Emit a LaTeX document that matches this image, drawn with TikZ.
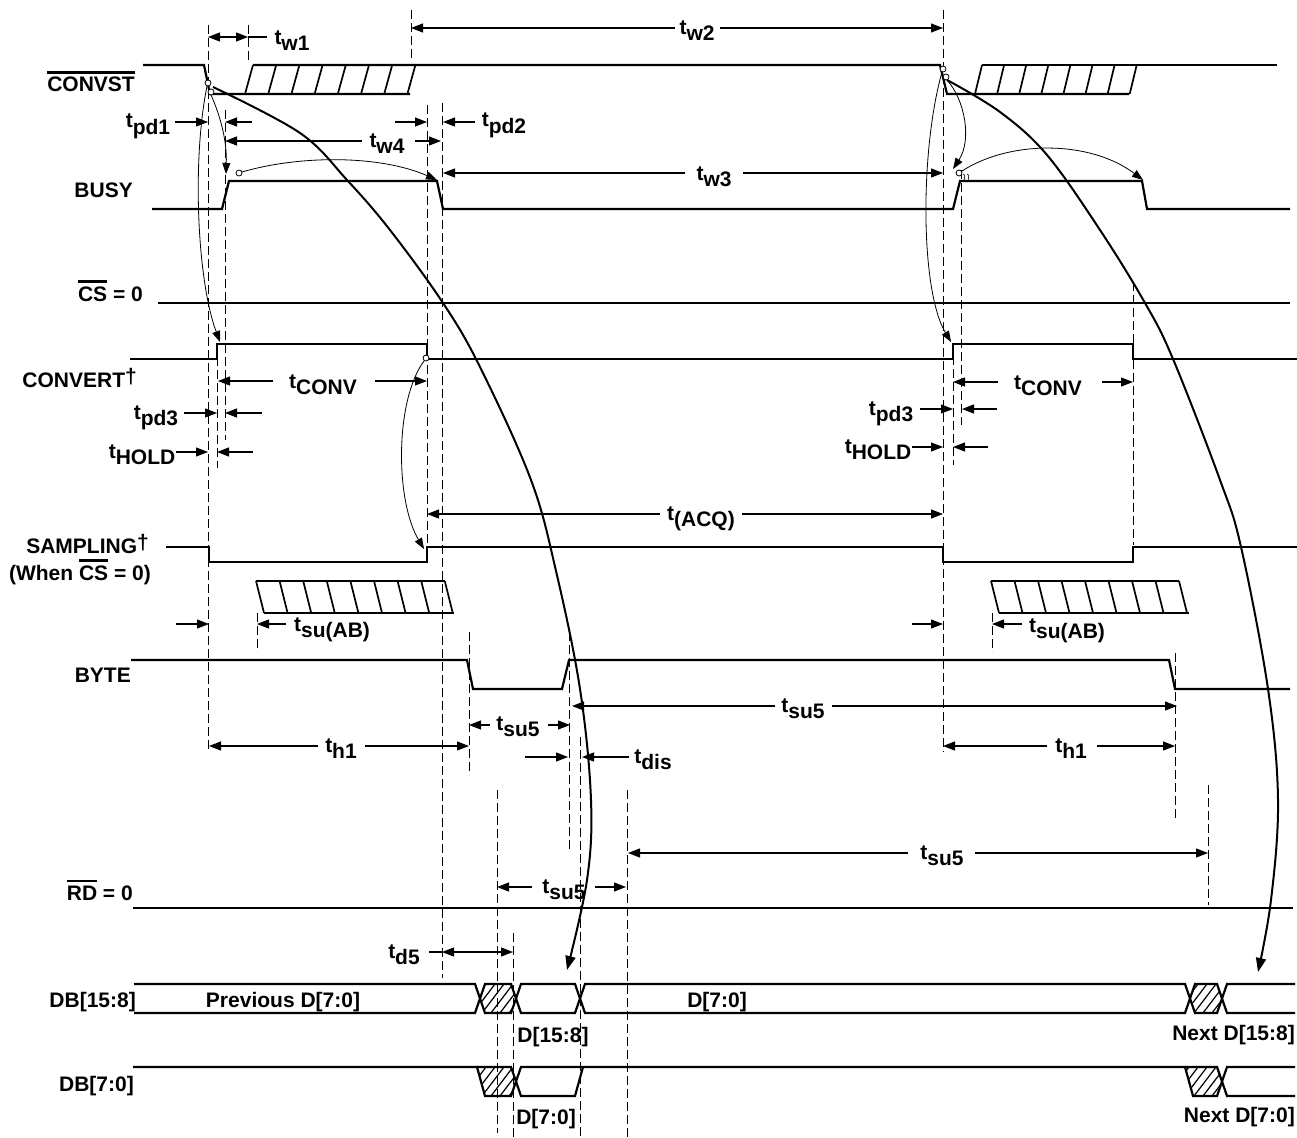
\documentclass[tikz,border=0pt]{standalone}
\usepackage{fontspec}
\setmainfont{Liberation Sans}
\usetikzlibrary{arrows.meta}
\newcommand\tm[1]{t\raisebox{-6pt}{#1}}
\newcommand\ovl[1]{\vbox{\hrule height 2.4pt\kern 3.5pt\hbox{#1}}}
\tikzset{
  sig/.style={line width=2.2pt},
  hat/.style={line width=1.7pt},
  hatl/.style={line width=1.2pt},
  dim/.style={line width=1.1pt},
  tip/.style={-{Triangle[length=12pt,width=9pt]}},
  dtip/.style={{Triangle[length=12pt,width=9pt]}-{Triangle[length=12pt,width=9pt]}},
  ctip/.style={-{Triangle[length=11pt,width=8pt]}},
  btip/.style={-{Triangle[length=14pt,width=10pt]}},
  guide/.style={line width=0.9pt, dash pattern=on 9pt off 4pt},
  conn/.style={line width=0.8pt},
  bigc/.style={line width=2pt},
  lbl/.style={anchor=base, inner sep=0pt, font=\fontsize{21}{24}\selectfont\bfseries},
  sname/.style={anchor=base east, inner sep=0pt, font=\fontsize{21}{24}\selectfont\bfseries},
  dot/.style={circle, draw, fill=white, line width=0.8pt, inner sep=0pt, minimum size=6pt},
}
\begin{document}
\begin{tikzpicture}[x=1pt,y=-1pt]
\useasboundingbox (0,0) rectangle (1297,1137);

% ---------- signal names
\node[sname] (nconvst) at (135,92) {\ovl{CONVST}};
\node[sname] (nbusy) at (133,197) {BUSY};
\node[sname] (ncs) at (143,301) {\ovl{CS} = 0};
\node[sname] (nconvert) at (137,387) {CONVERT\raisebox{4pt}{†}};
\node[sname] (nsamp) at (149,553) {SAMPLING\raisebox{4pt}{†}};
\node[sname] (nwhen) at (151,580) {(When \ovl{CS} = 0)};
\node[sname] (nbyte) at (131,682) {BYTE};
\node[sname] (nrd) at (133,900) {\ovl{RD} = 0};
\node[sname] (ndbh) at (136,1007) {DB[15:8]};
\node[sname] (ndbl) at (134,1091) {DB[7:0]};

% ---------- guide (dashed) lines
\draw[guide] (208,25) -- (208,752);
\draw[guide] (248,25) -- (248,62);
\draw[guide] (411,10) -- (411,62);
\draw[guide] (943,10) -- (943,752);
\draw[guide] (217,344) -- (217,468);
\draw[guide] (225,110) -- (225,440);
\draw[guide] (427,105) -- (427,545);
\draw[guide] (442,103) -- (442,978);
\draw[guide] (257,613) -- (257,652);
\draw[guide] (992,613) -- (992,652);
\draw[guide] (469,632) -- (469,775);
\draw[guide] (569,632) -- (569,850);
\draw[guide] (580,737) -- (580,1137);
\draw[guide] (497,790) -- (497,1133);
\draw[guide] (513,933) -- (513,1137);
\draw[guide] (627,790) -- (627,1137);
\draw[guide] (953,343) -- (953,465);
\draw[guide] (961,170) -- (961,425);
\draw[guide] (1133,282) -- (1133,545);
\draw[guide] (1175,653) -- (1175,818);
\draw[guide] (1208,785) -- (1208,905);

% ---------- CONVST
\draw[sig] (143,65) -- (204,65) -- (210,94) -- (410,94);
\draw[sig] (253,65) -- (940,65) -- (947,94) -- (1129,94);
\draw[sig] (982,65) -- (1277,65);
\foreach \i in {0,...,7} \draw[hat] ({245+23.2*\i},94) -- ({253+23.2*\i},65);
\foreach \i in {0,...,7} \draw[hat] ({975+22.1*\i},94) -- ({982+22.1*\i},65);

% ---------- BUSY
\draw[sig] (152,209) -- (222,209) -- (229,181) -- (437,181) -- (443,209) -- (953,209) -- (960,181) -- (1142,181) -- (1147,209) -- (1290,209);

% ---------- CS
\draw[sig] (158,303) -- (1290,303);

% ---------- CONVERT
\draw[sig] (130,359) -- (217,359) -- (217,344) -- (427,344) -- (427,359) -- (953,359) -- (953,344) -- (1133,344) -- (1133,359) -- (1297,359);

% ---------- SAMPLING
\draw[sig] (166,547) -- (209,547) -- (209,562) -- (427,562) -- (427,547) -- (943,547) -- (943,562) -- (1133,562) -- (1133,547) -- (1297,547);

% ---------- tsu(AB) hatches
\draw[sig] (256,581) -- (445,581);
\draw[sig] (264,613) -- (454,613);
\foreach \i in {0,...,8} \draw[hat] ({256+23.6*\i},581) -- ({264+23.6*\i},613);
\draw[sig] (991,581) -- (1179,581);
\draw[sig] (999,613) -- (1189,613);
\foreach \i in {0,...,8} \draw[hat] ({991+23.5*\i},581) -- ({999+23.5*\i},613);

% ---------- BYTE
\draw[sig] (131,660) -- (467,660) -- (473,689) -- (562,689) -- (569,660) -- (1169,660) -- (1175,689) -- (1290,689);

% ---------- RD
\draw[sig] (133,908) -- (1293,908);

% ---------- DB[15:8]
\draw[sig] (134,984) -- (475,984) -- (485,1013) -- (511,1013) -- (521,984) -- (575,984) -- (585,1013) -- (1185,1013) -- (1195,984) -- (1217,984) -- (1227,1013) -- (1295,1013);
\draw[sig] (134,1013) -- (475,1013) -- (485,984) -- (511,984) -- (521,1013) -- (575,1013) -- (585,984) -- (1185,984) -- (1195,1013) -- (1217,1013) -- (1227,984) -- (1295,984);
\begin{scope}
\clip (480,998.5) -- (485,984) -- (511,984) -- (516,998.5) -- (511,1013) -- (485,1013) -- cycle;
\foreach \x in {446,455,...,530} \draw[hatl] (\x,1013) -- ({\x+22},984);
\end{scope}
\begin{scope}
\clip (1190,998.5) -- (1195,984) -- (1217,984) -- (1222,998.5) -- (1217,1013) -- (1195,1013) -- cycle;
\foreach \x in {1158,1167,...,1230} \draw[hatl] (\x,1013) -- ({\x+22},984);
\end{scope}

% ---------- DB[7:0]
\draw[sig] (133,1067) -- (477,1067) -- (485,1096) -- (511,1096) -- (521,1067) -- (1185,1067) -- (1193,1096) -- (1217,1096) -- (1227,1067) -- (1295,1067);
\draw[sig] (477,1067) -- (511,1067) -- (521,1096) -- (575,1096) -- (583,1067);
\draw[sig] (1185,1067) -- (1217,1067) -- (1227,1096) -- (1295,1096);
\begin{scope}
\clip (477,1067) -- (511,1067) -- (516,1081.5) -- (511,1096) -- (485,1096) -- cycle;
\foreach \x in {446,455,...,530} \draw[hatl] (\x,1096) -- ({\x+22},1067);
\end{scope}
\begin{scope}
\clip (1185,1067) -- (1217,1067) -- (1222,1081.5) -- (1217,1096) -- (1193,1096) -- cycle;
\foreach \x in {1158,1167,...,1230} \draw[hatl] (\x,1096) -- ({\x+22},1067);
\end{scope}

% ---------- data labels
\node[lbl] (lprev) at (283,1007) {Previous D[7:0]};
\node[lbl] (ld70a) at (717,1007) {D[7:0]};
\node[lbl] (ld158) at (553,1042) {D[15:8]};
\node[lbl] (ld70b) at (546,1124) {D[7:0]};
\node[sname] (lnexth) at (1295,1040) {Next D[15:8]};
\node[sname] (lnextl) at (1295,1122) {Next D[7:0]};

% ---------- dimension arrows
% tw1
\draw[dim,dtip] (208,37) -- (248,37);
\draw[dim] (248,37) -- (267,37);
\node[lbl] (ltw1) at (292,45) {\tm{w1}};
% tw2
\draw[dim,tip] (675,28) -- (411,28);
\draw[dim,tip] (720,28) -- (943,28);
\node[lbl] (ltw2) at (697,35) {\tm{w2}};
% tpd1
\draw[dim,tip] (175,122) -- (208,122);
\draw[dim,tip] (252,122) -- (225,122);
\node[lbl] (ltpd1) at (148,128) {\tm{pd1}};
% tw4
\draw[dim,tip] (362,141) -- (225,141);
\draw[dim,tip] (415,141) -- (441,141);
\node[lbl] (ltw4) at (387,147) {\tm{w4}};
% tpd2
\draw[dim,tip] (395,122) -- (427,122);
\draw[dim,tip] (475,122) -- (443,122);
\node[lbl] (ltpd2) at (504,127) {\tm{pd2}};
% tw3
\draw[dim,tip] (685,173) -- (443,173);
\draw[dim,tip] (743,173) -- (943,173);
\node[lbl] (ltw3) at (714,180) {\tm{w3}};
% tCONV left
\draw[dim,tip] (273,381) -- (218,381);
\draw[dim,tip] (375,381) -- (427,381);
\node[lbl] (ltconv) at (323,388) {\tm{CONV}};
% tpd3 left
\draw[dim,tip] (184,413) -- (217,413);
\draw[dim,tip] (262,413) -- (225,413);
\node[lbl] (ltpd3) at (156,419) {\tm{pd3}};
% tHOLD left
\draw[dim,tip] (176,452) -- (208,452);
\draw[dim,tip] (253,452) -- (217,452);
\node[lbl] (lthold) at (142,458) {\tm{HOLD}};
% tCONV right
\draw[dim,tip] (998,382) -- (953,382);
\draw[dim,tip] (1102,382) -- (1133,382);
\node[lbl] (ltconvr) at (1048,389) {\tm{CONV}};
% tpd3 right
\draw[dim,tip] (920,409) -- (953,409);
\draw[dim,tip] (997,409) -- (962,409);
\node[lbl] (ltpd3r) at (891,415) {\tm{pd3}};
% tHOLD right
\draw[dim,tip] (912,447) -- (943,447);
\draw[dim,tip] (988,447) -- (953,447);
\node[lbl] (ltholdr) at (878,453) {\tm{HOLD}};
% t(ACQ)
\draw[dim,tip] (660,514) -- (427,514);
\draw[dim,tip] (742,514) -- (943,514);
\node[lbl] (ltacq) at (701,520) {\tm{(ACQ)}};
% tsu(AB) left
\draw[dim,tip] (176,624) -- (209,624);
\draw[dim,tip] (286,624) -- (257,624);
\node[lbl] (ltsuab) at (332,631) {\tm{su(AB)}};
% tsu(AB) right
\draw[dim,tip] (912,624) -- (943,624);
\draw[dim,tip] (1022,624) -- (992,624);
\node[lbl] (ltsuabr) at (1067,632) {\tm{su(AB)}};
% tsu5 small
\draw[dim,tip] (490,725) -- (469,725);
\draw[dim,tip] (548,725) -- (570,725);
\node[lbl] (ltsu5a) at (518,730) {\tm{su5}};
% tsu5 big
\draw[dim,tip] (775,706) -- (572,706);
\draw[dim,tip] (832,706) -- (1177,706);
\node[lbl] (ltsu5b) at (803,712) {\tm{su5}};
% th1 left
\draw[dim,tip] (318,746) -- (209,746);
\draw[dim,tip] (365,746) -- (469,746);
\node[lbl] (lth1) at (341,752) {\tm{h1}};
% th1 right
\draw[dim,tip] (1047,746) -- (943,746);
\draw[dim,tip] (1097,746) -- (1175,746);
\node[lbl] (lth1r) at (1071,752) {\tm{h1}};
% tdis
\draw[dim,tip] (525,757) -- (568,757);
\draw[dim,tip] (629,757) -- (582,757);
\node[lbl] (ltdis) at (653,763) {\tm{dis}};
% tsu5 mid
\draw[dim,tip] (532,887) -- (497,887);
\draw[dim,tip] (595,887) -- (626,887);
\node[lbl] (ltsu5c) at (564,893) {\tm{su5}};
% tsu5 bottom
\draw[dim,tip] (908,853) -- (628,853);
\draw[dim,tip] (975,853) -- (1208,853);
\node[lbl] (ltsu5d) at (942,859) {\tm{su5}};
% td5
\draw[dim,dtip] (442,952) -- (513,952);
\draw[dim] (429,952) -- (442,952);
\node[lbl] (ltd5) at (404,958) {\tm{d5}};

% ---------- causal connectors (thin)
\draw[conn,ctip] (207,86) .. controls (192,160) and (197,280) .. (220,342);
\draw[conn,ctip] (211,95) .. controls (220,115) and (227,140) .. (226,174);
\draw[conn,ctip] (242,172) .. controls (300,155) and (380,155) .. (437,180);
\draw[conn,ctip] (424,361) .. controls (395,400) and (395,500) .. (424,549);
\draw[conn,ctip] (942,72) .. controls (920,150) and (920,290) .. (951,342);
\draw[conn,ctip] (947,80) .. controls (965,100) and (972,140) .. (953,169);
\draw[conn,ctip] (962,171) .. controls (1010,140) and (1090,140) .. (1143,180);
\draw[line width=0.6pt] (963,174) .. controls (968,175) and (961,180) .. (966,182);
\draw[line width=0.6pt] (967,174) .. controls (972,175) and (965,180) .. (970,182);

% ---------- causal connectors (thick)
\draw[bigc,btip] plot[smooth, tension=0.6] coordinates {(213,87) (300,133) (347,180) (390,230) (443,303) (480,367) (531,480) (556,571) (580,689) (591,800) (587,880) (567,970)};
\draw[bigc,btip] plot[smooth, tension=0.6] coordinates {(947,80) (1000,112) (1047,155) (1100,230) (1145,303) (1173,359) (1220,480) (1241,547) (1268,689) (1278,800) (1271,900) (1258,972)};

% ---------- edge markers
\node[dot] (c1) at (208,83) {};
\node[dot] (c2) at (211,92) {};
\node[dot] (c3) at (239,173) {};
\node[dot] (c4) at (426,358) {};
\node[dot] (c5) at (943,69) {};
\node[dot] (c6) at (946,77) {};
\node[dot] (c7) at (959,173) {};
\end{tikzpicture}
\end{document}
